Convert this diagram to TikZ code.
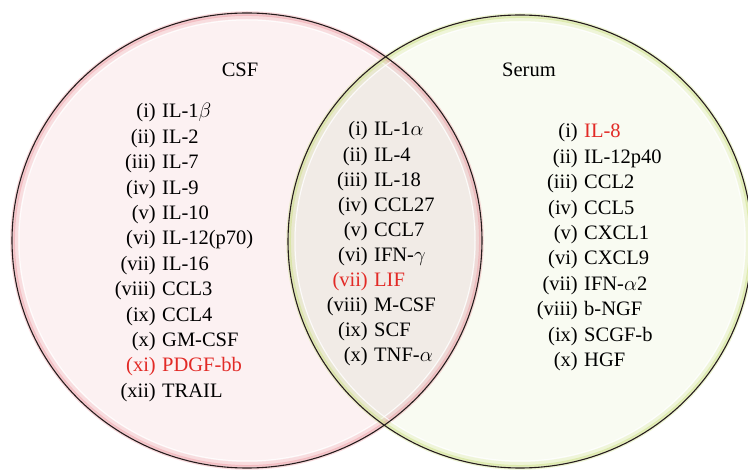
\documentclass[tikz,border=0pt]{standalone}
\usepackage{fontspec}
\setmainfont{Liberation Serif}
\definecolor{redtxt}{RGB}{226,42,38}
\definecolor{leftfill}{RGB}{252,241,242}
\definecolor{rightfill}{RGB}{249,251,242}
\definecolor{lensfill}{RGB}{241,235,230}
\definecolor{edgedark}{RGB}{38,28,28}
\definecolor{leftglow}{RGB}{236,150,158}
\definecolor{rightglow}{RGB}{205,225,130}
\tikzset{
  item/.style={inner sep=0pt, font=\fontsize{20.5}{24}\selectfont},
  title/.style={inner sep=0pt, font=\fontsize{20.5}{24}\selectfont},
  edgeline/.style={draw=edgedark, line width=1.1pt},
}
\newcommand{\Lc}{(247,240.5)}
\newcommand{\Rc}{(520,241.5)}
\begin{document}
\begin{tikzpicture}[x=1pt,y=-1pt]
\useasboundingbox (0,0) rectangle (748,470);
\fill[white] (0,0) rectangle (748,470);
% fills
\fill[leftfill] \Lc ellipse [x radius=235pt, y radius=227.5pt];
\fill[rightfill] \Rc ellipse [x radius=232pt, y radius=226.5pt];
\begin{scope}
  \clip \Lc ellipse [x radius=235pt, y radius=227.5pt];
  \fill[lensfill] \Rc ellipse [x radius=232pt, y radius=226.5pt];
\end{scope}
% glow bands
\draw[leftglow, line width=4pt, opacity=0.22] \Lc ellipse [x radius=231pt, y radius=223.5pt];
\draw[leftglow, line width=2.5pt, opacity=0.45] \Lc ellipse [x radius=233.3pt, y radius=225.8pt];
\draw[leftglow, line width=1.5pt, opacity=0.35] \Lc ellipse [x radius=236pt, y radius=228.5pt];
\draw[white, line width=1pt, opacity=0.8] \Lc ellipse [x radius=228pt, y radius=220.5pt];
\draw[rightglow, line width=4pt, opacity=0.22] \Rc ellipse [x radius=228pt, y radius=222.5pt];
\draw[rightglow, line width=2.5pt, opacity=0.5] \Rc ellipse [x radius=230.3pt, y radius=224.8pt];
\draw[rightglow, line width=1.5pt, opacity=0.35] \Rc ellipse [x radius=233pt, y radius=227.5pt];
\draw[white, line width=1pt, opacity=0.8] \Rc ellipse [x radius=225pt, y radius=219.5pt];
% outlines
\draw[edgeline] \Lc ellipse [x radius=235pt, y radius=227.5pt];
\draw[edgeline] \Rc ellipse [x radius=232pt, y radius=226.5pt];
% titles
\node[title, anchor=base] (csf) at (240,77) {CSF};
\node[title, anchor=base] (serum) at (529,77) {Serum};
% left list
\foreach \lab/\nm/\lc/\nc [count=\i] in {
  i/IL-1$\beta$/black/black, ii/IL-2/black/black, iii/IL-7/black/black,
  iv/IL-9/black/black, v/IL-10/black/black, vi/IL-12(p70)/black/black,
  vii/IL-16/black/black, viii/CCL3/black/black, ix/CCL4/black/black,
  x/GM-CSF/black/black, xi/PDGF-bb/redtxt/redtxt, xii/TRAIL/black/black}{
  \node[item, anchor=base east, text=\lc] (L\i a) at (156,{118+(\i-1)*25.4}) {(\lab)};
  \node[item, anchor=base west, text=\nc] (L\i b) at (162,{118+(\i-1)*25.4}) {\nm};
}
% middle list
\foreach \lab/\nm/\lc/\nc [count=\i] in {
  i/IL-1$\alpha$/black/black, ii/IL-4/black/black, iii/IL-18/black/black,
  iv/CCL27/black/black, v/CCL7/black/black, vi/IFN-$\gamma$/black/black,
  vii/LIF/redtxt/redtxt, viii/M-CSF/black/black, ix/SCF/black/black,
  x/TNF-$\alpha$/black/black}{
  \node[item, anchor=base east, text=\lc] (M\i a) at (368,{136+(\i-1)*25.1}) {(\lab)};
  \node[item, anchor=base west, text=\nc] (M\i b) at (374,{136+(\i-1)*25.1}) {\nm};
}
% right list
\foreach \lab/\nm/\lc/\nc [count=\i] in {
  i/IL-8/black/redtxt, ii/IL-12p40/black/black, iii/CCL2/black/black,
  iv/CCL5/black/black, v/CXCL1/black/black, vi/CXCL9/black/black,
  vii/IFN-$\alpha$2/black/black, viii/b-NGF/black/black, ix/SCGF-b/black/black,
  x/HGF/black/black}{
  \node[item, anchor=base east, text=\lc] (R\i a) at (578,{138+(\i-1)*25.4}) {(\lab)};
  \node[item, anchor=base west, text=\nc] (R\i b) at (584,{138+(\i-1)*25.4}) {\nm};
}
\end{tikzpicture}
\end{document}
